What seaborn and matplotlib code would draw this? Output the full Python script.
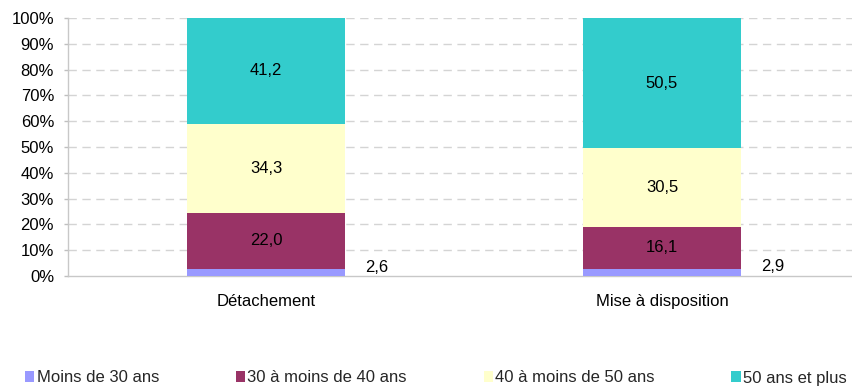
import matplotlib
matplotlib.use("Agg")
import matplotlib.pyplot as plt
import seaborn as sns
import pandas as pd
import numpy as np
from matplotlib.patches import Patch

categories = ["Détachement", "Mise à disposition"]
series = ["Moins de 30 ans", "30 à moins de 40 ans", "40 à moins de 50 ans", "50 ans et plus"]
moins_30 = [2.6, 2.9]
de_30_a_40 = [22.0, 16.1]
de_40_a_50 = [34.3, 30.5]
plus_50 = [41.2, 50.5]
colors = ["#9999FF", "#993366", "#FFFFCC", "#33CCCC"]
yticks = [0, 10, 20, 30, 40, 50, 60, 70, 80, 90, 100]

sns.set_theme(style="white")
plt.rcParams["font.family"] = ["Liberation Sans", "DejaVu Sans"]
FS = 12
plt.rcParams["font.size"] = FS

values = [moins_30, de_30_a_40, de_40_a_50, plus_50]
cum = np.cumsum(np.array(values), axis=0)

fig = plt.figure(figsize=(8.53, 3.87), dpi=100)
ax = fig.add_axes([68 / 853, 1 - 276 / 387, (860 - 68) / 853, (276 - 18) / 387])

# stacked bars: draw the cumulative totals from the top segment down
for i in range(len(series) - 1, -1, -1):
    df = pd.DataFrame({"cat": categories, "val": cum[i]})
    sns.barplot(data=df, x="cat", y="val", color=colors[i], width=0.4,
                saturation=1, ax=ax, edgecolor="none", linewidth=0, zorder=3)

fmt = lambda v: f"{v:.1f}".replace(".", ",")
for j in range(len(categories)):
    for i in range(1, len(series)):
        mid = cum[i][j] - values[i][j] / 2
        ax.text(j, mid, fmt(values[i][j]), ha="center", va="center",
                fontsize=FS, color="black", zorder=5)
    ax.text(j + 0.28, values[0][j] + 0.6, fmt(values[0][j]), ha="center",
            va="center", fontsize=FS, color="black", zorder=5)

ax.set_xlim(-0.5, 1.5)
ax.set_ylim(0, 100)
ax.set_yticks(yticks)
ax.set_yticklabels([f"{t}%" for t in yticks])
ax.set_xlabel("")
ax.set_ylabel("")
ax.tick_params(axis="y", left=True, length=3, width=1, color="#bfbfbf",
               pad=7, labelsize=FS, labelcolor="black")
ax.tick_params(axis="x", bottom=False, pad=7, labelsize=FS, labelcolor="black")
for t in yticks[1:]:
    ax.axhline(t, color="#d4d4d4", lw=1, ls=(0, (6, 4)), zorder=1)
for s in ["top", "right"]:
    ax.spines[s].set_visible(False)
ax.spines["left"].set_color("#c8c8c8")
ax.spines["bottom"].set_color("#c8c8c8")
ax.spines["left"].set_linewidth(1)
ax.spines["bottom"].set_linewidth(1)

handles = [Patch(facecolor=c, edgecolor="none") for c in colors]
fig.legend(handles, series, loc="center left", bbox_to_anchor=(25 / 853, 1 - 378 / 387),
           ncol=4, frameon=False, fontsize=FS, handlelength=0.55, handleheight=0.6,
           handletextpad=0.15, columnspacing=4.6, borderaxespad=0, borderpad=0)

fig.savefig("out.png", dpi=100)
